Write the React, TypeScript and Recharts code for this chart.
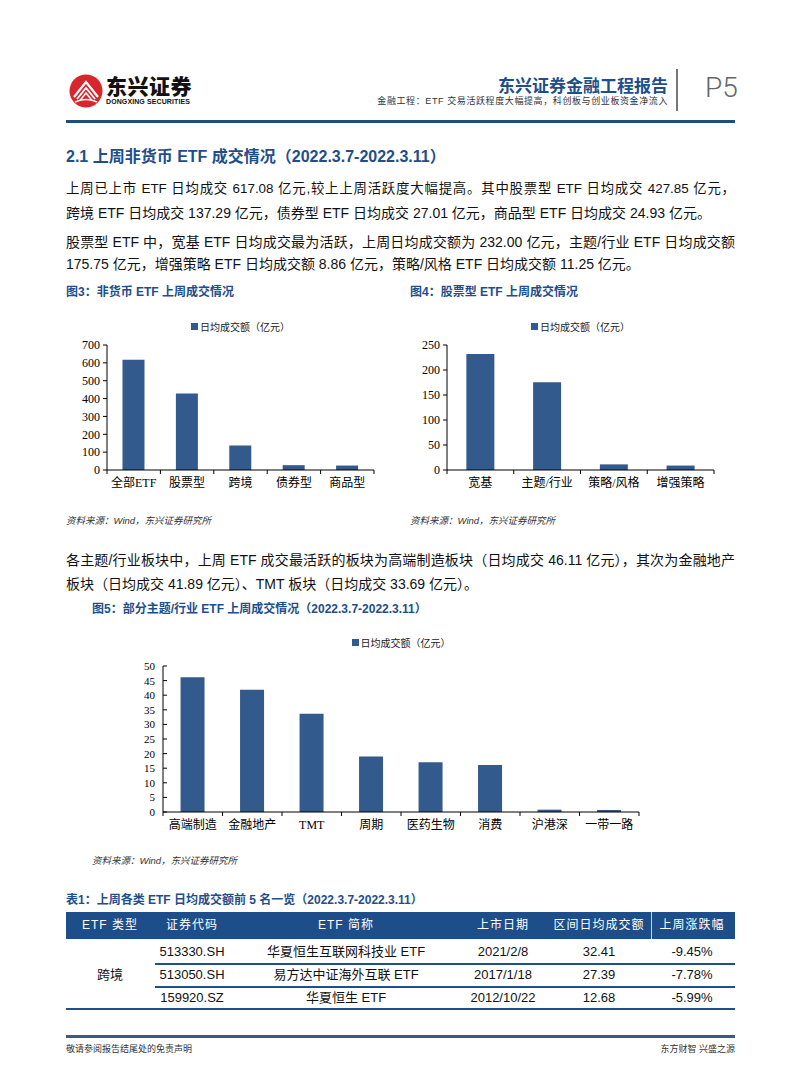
import React from 'react';
import { BarChart, Bar, XAxis, YAxis, Legend } from 'recharts';

// ---------- data ----------
const seriesName = '日均成交额（亿元）';

const fig3Categories = ['全部ETF', '股票型', '跨境', '债券型', '商品型'];
const fig3Values = [617.08, 427.85, 137.29, 27.01, 24.93];
const fig3Ticks = [0, 100, 200, 300, 400, 500, 600, 700];

const fig4Categories = ['宽基', '主题/行业', '策略/风格', '增强策略'];
const fig4Values = [232.0, 175.75, 11.25, 8.86];
const fig4Ticks = [0, 50, 100, 150, 200, 250];

const fig5Categories = ['高端制造', '金融地产', 'TMT', '周期', '医药生物', '消费', '沪港深', '一带一路'];
const fig5Values = [46.11, 41.89, 33.69, 19.0, 17.0, 16.1, 0.8, 0.7];
const fig5Ticks = [0, 5, 10, 15, 20, 25, 30, 35, 40, 45, 50];

const tableHeaders = ['ETF 类型', '证券代码', 'ETF 简称', '上市日期', '区间日均成交额', '上周涨跌幅'];
const tableType = '跨境';
const tableCodes = ['513330.SH', '513050.SH', '159920.SZ'];
const tableNames = ['华夏恒生互联网科技业 ETF', '易方达中证海外互联 ETF', '华夏恒生 ETF'];
const tableDates = ['2021/2/8', '2017/1/18', '2012/10/22'];
const tableAmounts = ['32.41', '27.39', '12.68'];
const tableChanges = ['-9.45%', '-7.78%', '-5.99%'];

// ---------- styles ----------
const SANS = '"Liberation Sans", Arial, "Noto Sans CJK SC", sans-serif';
const SERIF = '"Liberation Serif", "Times New Roman", "Noto Sans CJK SC", serif';
const BLUE = '#1E4E8C';
const BAR = '#335A8D';

const toData = (cats: string[], vals: number[]) => cats.map((c, i) => ({ name: c, v: vals[i] }));

const TextLine = ({ x, cy, size = 14, w, justify = false, color = '#111', weight = 400, italic = false, right, children, family = SANS, spacing = 0 }: any) => (
  <div
    style={{
      position: 'absolute',
      left: right === undefined ? x : undefined,
      right: right,
      top: cy - 10,
      height: 20,
      lineHeight: '20px',
      width: w,
      fontSize: size,
      color,
      fontWeight: weight,
      fontStyle: italic ? 'italic' : 'normal',
      fontFamily: family,
      textAlign: justify ? 'justify' : 'left',
      textAlignLast: justify ? 'justify' : 'auto',
      letterSpacing: spacing,
      whiteSpace: justify ? 'normal' : 'nowrap',
    } as any}
  >
    {children}
  </div>
);

const makeXTick = (fontSize: number) => (props: any) => {
  const { x, y, payload, index, visibleTicksCount, width } = props;
  const band = payload && payload.offset ? payload.offset * 2 : width / visibleTicksCount;
  const axisY = y - 8;
  return (
    <g>
      <line x1={x - band / 2} x2={x - band / 2} y1={axisY} y2={axisY + 4} stroke="#000" />
      {index === visibleTicksCount - 1 && (
        <line x1={x + band / 2} x2={x + band / 2} y1={axisY} y2={axisY + 4} stroke="#000" />
      )}
      <text x={x} y={y} dy="0.71em" textAnchor="middle" fontSize={fontSize} fontFamily={SERIF} fill="#000">
        {payload.value}
      </text>
    </g>
  );
};

const makeYTickInward = (fontSize: number, margin: number) => (props: any) => {
  const { x, y, payload } = props;
  return (
    <g>
      <line x1={x + margin} x2={x + margin + 4} y1={y} y2={y} stroke="#000" />
      <text x={x} y={y} dy="0.355em" textAnchor="end" fontSize={fontSize} fontFamily={SERIF} fill="#000">
        {payload.value}
      </text>
    </g>
  );
};

const LegendContent = () => (
  <div
    style={{
      height: 20,
      display: 'flex',
      alignItems: 'center',
      justifyContent: 'center',
      fontSize: 10,
      fontFamily: SERIF,
      color: '#222',
    }}
  >
    <span style={{ width: 7, height: 7, background: BAR, display: 'inline-block', marginRight: 2 }} />
    <span>{seriesName}</span>
  </div>
);

const SmallChart = ({ left, top, cats, vals, ticks, max }: any) => {
  const width = 330;
  const yw = 47;
  const mr = 16;
  return (
    <div style={{ position: 'absolute', left, top }}>
      <BarChart
        width={width}
        height={200}
        data={toData(cats, vals)}
        margin={{ top: 25, right: mr, bottom: 0, left: 0 }}
        barCategoryGap="29%"
      >
        <Legend
          verticalAlign="top"
          content={<LegendContent />}
          wrapperStyle={{ top: 16, left: yw, width: width - yw - mr }}
        />
        <XAxis
          dataKey="name"
          interval={0}
          tickLine={false}
          tickSize={6}
          tickMargin={2}
          axisLine={{ stroke: '#000' }}
          tick={makeXTick(12)}
        />
        <YAxis
          width={yw}
          domain={[0, max]}
          ticks={ticks}
          interval={0}
          tickSize={4}
          tickMargin={3}
          tickLine={{ stroke: '#000' }}
          axisLine={{ stroke: '#000' }}
          tick={{ fontSize: 12, fontFamily: SERIF, fill: '#000' }}
        />
        <Bar dataKey="v" name={seriesName} fill={BAR} isAnimationActive={false} />
      </BarChart>
    </div>
  );
};

const Fig5 = () => {
  const width = 560;
  const yw = 63;
  const mr = 21;
  return (
    <div style={{ position: 'absolute', left: 100, top: 615 }}>
      <BarChart
        width={width}
        height={227}
        data={toData(fig5Categories, fig5Values)}
        margin={{ top: 31, right: mr, bottom: 0, left: 0 }}
        barCategoryGap="29.5%"
      >
        <Legend
          verticalAlign="top"
          content={<LegendContent />}
          wrapperStyle={{ top: 17, left: yw, width: width - yw - mr }}
        />
        <XAxis
          dataKey="name"
          interval={0}
          tickLine={false}
          tickSize={6}
          tickMargin={2}
          axisLine={{ stroke: '#000' }}
          tick={makeXTick(12)}
        />
        <YAxis
          width={yw}
          domain={[0, 50]}
          ticks={fig5Ticks}
          interval={0}
          tickSize={0}
          tickMargin={8}
          tickLine={false}
          axisLine={{ stroke: '#000' }}
          tick={makeYTickInward(11, 8)}
        />
        <Bar dataKey="v" name={seriesName} fill={BAR} isAnimationActive={false} />
      </BarChart>
    </div>
  );
};

const Logo = () => (
  <svg style={{ position: 'absolute', left: 68, top: 73 }} width={36} height={36} viewBox="0 0 36 36">
    <circle cx={18} cy={18} r={16.5} fill="#D9262C" />
    <path d="M6 24 L18 9 L30 24" fill="none" stroke="#fff" strokeWidth={2.2} />
    <path d="M9 26 L18 15 L27 26" fill="none" stroke="#fff" strokeWidth={1.8} />
    <path d="M12 27.5 L18 20 L24 27.5" fill="none" stroke="#fff" strokeWidth={1.5} />
    <path d="M7 29 Q18 24 29 29" fill="none" stroke="#fff" strokeWidth={1.5} />
  </svg>
);

const colCenters = [110, 192, 346, 503, 599, 692];

export default function App() {
  return (
    <div
      lang="zh-CN"
      style={{ position: 'absolute', left: 0, top: 0, width: 802, height: 1086, background: '#fff', fontFamily: SANS, overflow: 'hidden' }}
    >
      {/* header */}
      <Logo />
      <div style={{ position: 'absolute', left: 106, top: 73, fontSize: 21, fontWeight: 900, color: '#111', fontFamily: '"Noto Sans CJK SC", sans-serif', lineHeight: '24px', letterSpacing: 0.5 }}>
        东兴证券
      </div>
      <div style={{ position: 'absolute', left: 106, top: 97, fontSize: 7, fontWeight: 700, color: '#111', fontFamily: SANS, lineHeight: '10px', letterSpacing: 0.1 }}>
        DONGXING SECURITIES
      </div>
      <TextLine right={134} cy={85} size={17} weight={700} color={BLUE} family='"Noto Sans CJK SC", sans-serif'>
        东兴证券金融工程报告
      </TextLine>
      <TextLine right={134} cy={101} size={9} color="#333" spacing={0.6}>
        金融工程：ETF 交易活跃程度大幅提高，科创板与创业板资金净流入
      </TextLine>
      <div style={{ position: 'absolute', left: 676, top: 69, width: 2, height: 42, background: '#777' }} />
      <div style={{ position: 'absolute', left: 705, top: 71, fontSize: 28, lineHeight: '34px', color: '#666', fontFamily: 'Roboto, sans-serif', fontWeight: 300 }}>
        P5
      </div>
      <div style={{ position: 'absolute', left: 66, top: 120, width: 669, height: 3, background: '#1F4E79' }} />

      {/* section */}
      <TextLine x={66} cy={157} size={16} weight={700} color={BLUE}>
        2.1 上周非货币 ETF 成交情况（2022.3.7-2022.3.11）
      </TextLine>
      <TextLine x={66} cy={189} w={669} size={13.4} justify>
        上周已上市 ETF 日均成交 617.08 亿元,较上上周活跃度大幅提高。其中股票型 ETF 日均成交 427.85 亿元，
      </TextLine>
      <TextLine x={66} cy={213}>
        跨境 ETF 日均成交 137.29 亿元，债券型 ETF 日均成交 27.01 亿元，商品型 ETF 日均成交 24.93 亿元。
      </TextLine>
      <TextLine x={66} cy={242} w={669} justify>
        股票型 ETF 中，宽基 ETF 日均成交最为活跃，上周日均成交额为 232.00 亿元，主题/行业 ETF 日均成交额
      </TextLine>
      <TextLine x={66} cy={264}>
        175.75 亿元，增强策略 ETF 日均成交额 8.86 亿元，策略/风格 ETF 日均成交额 11.25 亿元。
      </TextLine>

      {/* figure 3 & 4 */}
      <TextLine x={66} cy={292} size={12} weight={700} color={BLUE}>
        图3：非货币 ETF 上周成交情况
      </TextLine>
      <TextLine x={410} cy={292} size={12} weight={700} color={BLUE}>
        图4：股票型 ETF 上周成交情况
      </TextLine>
      <SmallChart left={60} top={300} cats={fig3Categories} vals={fig3Values} ticks={fig3Ticks} max={700} />
      <SmallChart left={400} top={300} cats={fig4Categories} vals={fig4Values} ticks={fig4Ticks} max={250} />
      <TextLine x={66} cy={521} size={9.5} italic color="#333">
        资料来源：Wind，东兴证券研究所
      </TextLine>
      <TextLine x={410} cy={521} size={9.5} italic color="#333">
        资料来源：Wind，东兴证券研究所
      </TextLine>

      {/* paragraph 3 */}
      <TextLine x={66} cy={560} w={669} justify>
        各主题/行业板块中，上周 ETF 成交最活跃的板块为高端制造板块（日均成交 46.11 亿元），其次为金融地产
      </TextLine>
      <TextLine x={66} cy={584}>
        板块（日均成交 41.89 亿元）、TMT 板块（日均成交 33.69 亿元）。
      </TextLine>

      {/* figure 5 */}
      <TextLine x={92} cy={609} size={12} weight={700} color={BLUE}>
        图5：部分主题/行业 ETF 上周成交情况（2022.3.7-2022.3.11）
      </TextLine>
      <Fig5 />
      <TextLine x={92} cy={861} size={9.5} italic color="#333">
        资料来源：Wind，东兴证券研究所
      </TextLine>

      {/* table */}
      <TextLine x={66} cy={900} size={12} weight={700} color={BLUE}>
        表1：上周各类 ETF 日均成交额前 5 名一览（2022.3.7-2022.3.11）
      </TextLine>
      <div style={{ position: 'absolute', left: 66, top: 912, width: 669, height: 27, background: '#1D4E89' }} />
      <div style={{ position: 'absolute', left: 651, top: 912, width: 1, height: 27, background: '#c8d4e4' }} />
      {tableHeaders.map((h, i) => (
        <div
          key={h}
          style={{ position: 'absolute', left: colCenters[i] - 60, width: 120, top: 915, lineHeight: '20px', textAlign: 'center', fontSize: 12, color: '#fff', letterSpacing: 1 }}
        >
          {h}
        </div>
      ))}
      {tableCodes.map((code, r) => {
        const cy = 952 + r * 23;
        const cells = [code, tableNames[r], tableDates[r], tableAmounts[r], tableChanges[r]];
        return cells.map((c, j) => (
          <div
            key={`${r}-${j}`}
            style={{ position: 'absolute', left: colCenters[j + 1] - 80, width: 160, top: cy - 10, lineHeight: '20px', textAlign: 'center', fontSize: 13, color: '#111' }}
          >
            {c}
          </div>
        ));
      })}
      <div style={{ position: 'absolute', left: colCenters[0] - 40, width: 80, top: 965, lineHeight: '20px', textAlign: 'center', fontSize: 13, color: '#111' }}>
        {tableType}
      </div>
      <div style={{ position: 'absolute', left: 155, top: 963, width: 580, height: 1.5, background: BLUE }} />
      <div style={{ position: 'absolute', left: 155, top: 986, width: 580, height: 1.5, background: BLUE }} />
      <div style={{ position: 'absolute', left: 66, top: 1008, width: 669, height: 1.5, background: BLUE }} />

      {/* footer */}
      <div style={{ position: 'absolute', left: 66, top: 1035, width: 669, height: 2.5, background: '#3D5A80' }} />
      <TextLine x={66} cy={1049} size={9} color="#333">
        敬请参阅报告结尾处的免责声明
      </TextLine>
      <TextLine right={67} cy={1049} size={9} color="#333">
        东方财智 兴盛之源
      </TextLine>
    </div>
  );
}
